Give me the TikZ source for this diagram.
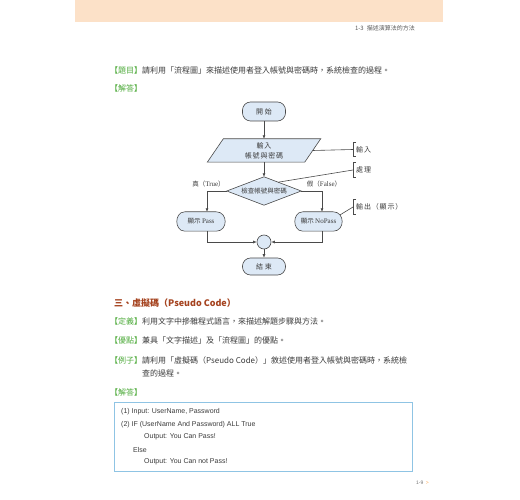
\documentclass[tikz,border=0pt]{standalone}
\usepackage{fontspec}
\setmainfont{Liberation Sans}
\newfontfamily\cjk{Noto Sans CJK TC}
\newfontfamily\cjks[LetterSpace=12]{Noto Sans CJK TC}
\newfontfamily\serif{Liberation Serif}
\usetikzlibrary{calc,backgrounds,arrows.meta}
\definecolor{peach}{HTML}{FCE1C8}
\definecolor{grn}{HTML}{4DAA3A}
\definecolor{brn}{HTML}{A5431F}
\definecolor{flowfill}{HTML}{DDE9F6}
\definecolor{flowline}{HTML}{4A4A4A}
\definecolor{boxline}{HTML}{8FC4E4}
\definecolor{txt}{HTML}{3A3A3A}
\tikzset{
  fl/.style={draw=flowline, line width=0.6pt, fill=flowfill},
  ln/.style={draw=flowline, line width=0.6pt},
  arr/.style={ln, -{Latex[length=3.5pt,width=3pt]}},
  ft/.style={font=\cjk\fontsize{6.5}{10}\selectfont, text=txt, inner sep=0pt, align=center},
  fts/.style={ft, font=\cjks\fontsize{7}{10}\selectfont},
  term/.style={fts, fl, rounded corners=8pt, minimum width=43pt, minimum height=19pt},
  annot/.style={fts, anchor=west, minimum height=14pt, inner xsep=3pt},
  body/.style={font=\cjk\fontsize{8}{10}\selectfont, text=txt, inner sep=0pt, anchor=west},
  code/.style={font=\fontsize{7}{9}\selectfont, text=txt, inner sep=0pt, anchor=west}
}
\newcommand\dispshape[1]{\draw[fl] ($(#1.north west)+(8,0)$) -- ($(#1.north east)+(-9,0)$) .. controls ($(#1.north east)+(3,0)$) and ($(#1.south east)+(3,0)$) .. ($(#1.south east)+(-9,0)$) -- ($(#1.south west)+(8,0)$) .. controls ($(#1.south west)+(2,0)$) and ($(#1.west)+(0,4)$) .. (#1.west) .. controls ($(#1.west)+(0,-4)$) and ($(#1.north west)+(2,0)$) .. cycle;}
\newcommand\bracketat[1]{\draw[ln] ([xshift=3pt]#1.north west) -- (#1.north west) -- (#1.south west) -- ([xshift=3pt]#1.south west);}
\begin{document}
\begin{tikzpicture}[x=1pt,y=-1pt]
\useasboundingbox (0,0) rectangle (520,500);
% page header
\fill[peach] (75,0) rectangle (443,22);
\node[font=\cjk\fontsize{6}{7}\selectfont, text=black!65, inner sep=0, anchor=east] (hdr) at (415,28) {1-3\enspace 描述演算法的方法};
% question
\node[body] (q) at (110,70) {{\color{grn}【題目】}請利用「流程圖」來描述使用者登入帳號與密碼時，系統檢查的過程。};
\node[body] (a) at (110,88) {\color{grn}【解答】};
% flowchart nodes
\node[term] (start) at (264,111.5) {開\hspace{2pt}始};
\node[fts, minimum width=97pt, minimum height=23pt] (inp) at (264,150.5) {輸入\\帳號與密碼};
\node[ft, minimum width=74pt, minimum height=28pt] (dia) at (264,191) {檢查帳號與密碼};
\node[ft, minimum width=48pt, minimum height=19pt] (pass) at (201,221.5) {顯示 {\serif\fontsize{7}{9}\selectfont Pass}};
\node[ft, minimum width=47pt, minimum height=19pt] (np) at (318.5,221.5) {顯示 {\serif\fontsize{7}{9}\selectfont NoPass}};
\node[circle, fl, minimum size=14pt, inner sep=0pt] (j) at (264,242) {};
\node[term, minimum height=17pt] (end) at (264,266.5) {結\hspace{2pt}束};
\begin{scope}[on background layer]
\draw[fl] ($(inp.north west)+(8,0)$) -- ($(inp.north east)+(8,0)$) -- ($(inp.south east)+(-8,0)$) -- ($(inp.south west)+(-8,0)$) -- cycle;
\draw[fl] (dia.north) -- (dia.east) -- (dia.south) -- (dia.west) -- cycle;
\dispshape{pass}
\dispshape{np}
\end{scope}
% connectors
\draw[arr] (start) -- (inp);
\draw[arr] (inp) -- (dia);
\draw[arr] (dia.west) -| ([xshift=6pt]pass.north);
\draw[arr] (dia.east) -| ([xshift=3.5pt]np.north);
\draw[arr] ([xshift=6pt]pass.south) |- (j.west);
\draw[arr] ([xshift=3.5pt]np.south) |- (j.east);
\draw[arr] (j) -- (end);
\node[ft] (tl) at (208.5,184.5) {真（{\serif\fontsize{7}{9}\selectfont True}）};
\node[ft] (fl) at (324,184.5) {假（{\serif\fontsize{7}{9}\selectfont False}）};
% annotations
\node[annot] (an1) at (353,149.5) {輸入};
\node[annot] (an2) at (353,170) {處理};
\node[annot] (an3) at (353,207) {輸出（顯示）};
\bracketat{an1}
\bracketat{an2}
\bracketat{an3}
\draw[ln] (inp.east) -- (an1.west);
\draw[ln] ($(dia.north)!0.38!(dia.east)$) -- (an2.west);
\draw[ln] ($(np.north east)+(-2,3)$) -- (an3.west);
% section 3
\node[body, font=\cjk\bfseries\fontsize{9}{11}\selectfont, text=brn] (sec) at (114,303) {三、虛擬碼（Pseudo Code）};
\node[body] (d1) at (110,321) {{\color{grn}【定義】}利用文字中摻雜程式語言，來描述解題步驟與方法。};
\node[body] (d2) at (110,340) {{\color{grn}【優點】}兼具「文字描述」及「流程圖」的優點。};
\node[body] (d3) at (110,360) {{\color{grn}【例子】}請利用「虛擬碼（Pseudo Code）」敘述使用者登入帳號與密碼時，系統檢};
\node[body] (d4) at (142,373) {查的過程。};
\node[body] (d5) at (110,392) {\color{grn}【解答】};
\node[draw=boxline, line width=0.8pt, minimum width=298pt, minimum height=69pt, inner sep=0pt, anchor=north west] (box) at (114,402) {};
\node[code] (c1) at (121,412) {(1) Input: UserName, Password};
\node[code] (c2) at (121,424.5) {(2) IF (UserName And Password) ALL True};
\node[code] (c3) at (144,437) {Output: You Can Pass!};
\node[code] (c4) at (133,449.5) {Else};
\node[code] (c5) at (144,462) {Output: You Can not Pass!};
% page number
\node[font=\fontsize{5}{6}\selectfont, text=black!55, inner sep=0, anchor=west] (pg) at (416,483) {1-9\enspace{\color{orange!70}\textgreater}};
\end{tikzpicture}
\end{document}
